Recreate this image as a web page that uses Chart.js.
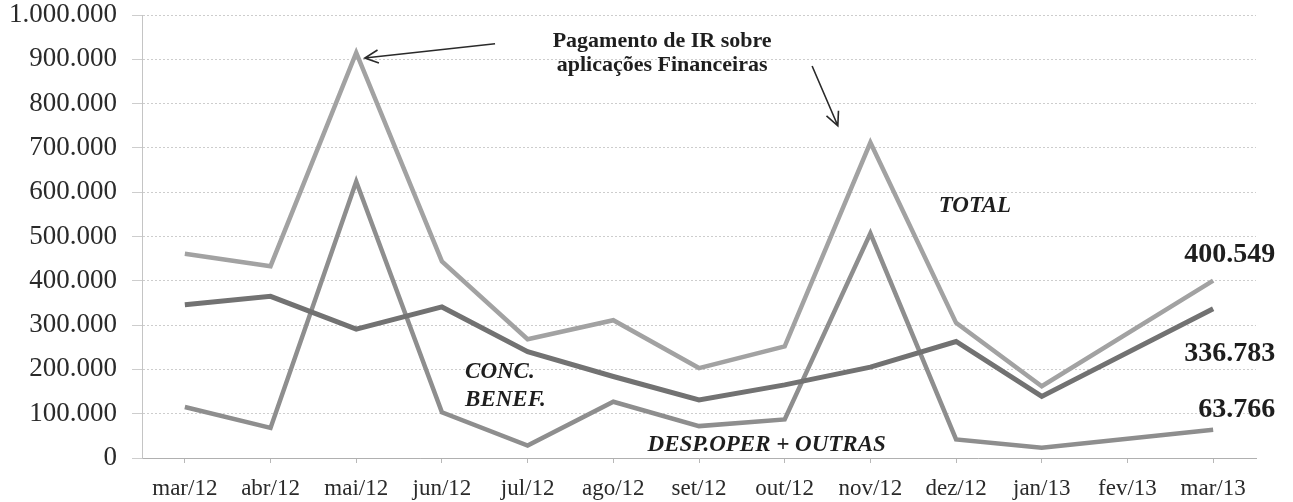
<!DOCTYPE html>
<html>
<head>
<meta charset="utf-8">
<script src="https://cdn.jsdelivr.net/npm/chart.js@4.4.1/dist/chart.umd.min.js"></script>
<style>
  html, body { margin: 0; padding: 0; background: #fff; }
  #wrap { width: 1293px; height: 502px; }
</style>
</head>
<body>
<div id="wrap"><canvas id="despChart"></canvas></div>
<script>
// Data (fev/13 has no visible point: the lines run straight jan/13 -> mar/13)
const months = ['mar/12', 'abr/12', 'mai/12', 'jun/12', 'jul/12', 'ago/12', 'set/12', 'out/12', 'nov/12', 'dez/12', 'jan/13', 'fev/13', 'mar/13'];
const totalValues = [461000, 433000, 915000, 444000, 268000, 311000, 203000, 252000, 712000, 305000, 162000, null, 400549];
const concBenef = [346000, 365000, 291000, 341000, 240000, 184000, 131000, 165000, 205000, 263000, 139000, null, 336783];
const despOper = [115000, 68000, 624000, 103000, 28000, 127000, 72000, 87000, 507000, 42000, 23000, null, 63766];
const yTicks = [0, 100000, 200000, 300000, 400000, 500000, 600000, 700000, 800000, 900000, 1000000];

const serif = "'Liberation Serif', 'Times New Roman', serif";

function fmt(v) {
    return String(Math.round(v)).replace(/\B(?=(\d{3})+(?!\d))/g, '.');
}

// text notes + arrows, placed in data units (category index, value)
const notes = {
    id: 'notes',
    afterDatasetsDraw(chart) {
        const ctx = chart.ctx;
        const x = chart.scales.x, y = chart.scales.y;
        const px = i => x.getPixelForValue(i);
        const py = v => y.getPixelForValue(v);

        ctx.save();
        ctx.fillStyle = '#1e1e1e';
        ctx.textBaseline = 'middle';

        // header note
        ctx.font = 'bold 22px ' + serif;
        ctx.textAlign = 'center';
        ctx.fillText('Pagamento de IR sobre', px(5.57), py(941000));
        ctx.fillText('aplicações Financeiras', px(5.57), py(887000));

        // series names
        ctx.font = 'italic bold 23px ' + serif;
        ctx.fillText('TOTAL', px(9.22), py(568000));
        ctx.fillText('DESP.OPER + OUTRAS', px(6.79), py(29000));
        ctx.textAlign = 'left';
        ctx.fillText('CONC.', px(3.27), py(194000));
        ctx.fillText('BENEF.', px(3.27), py(131000));

        // end values
        ctx.font = 'bold 28px ' + serif;
        ctx.textAlign = 'right';
        const last = months.length - 1;
        const ends = [[totalValues, -26], [concBenef, 45], [despOper, -20]];
        ends.forEach(([arr, dy]) => {
            ctx.fillText(fmt(arr[last]), px(last) + 62, py(arr[last]) + dy);
        });

        // arrows
        ctx.strokeStyle = '#2a2a2a';
        ctx.lineWidth = 1.6;
        const arrow = (x1, y1, x2, y2) => {
            ctx.beginPath();
            ctx.moveTo(x1, y1);
            ctx.lineTo(x2, y2);
            const a = Math.atan2(y2 - y1, x2 - x1);
            const len = 15;
            ctx.moveTo(x2 - len * Math.cos(a - 0.45), y2 - len * Math.sin(a - 0.45));
            ctx.lineTo(x2, y2);
            ctx.lineTo(x2 - len * Math.cos(a + 0.45), y2 - len * Math.sin(a + 0.45));
            ctx.stroke();
        };
        arrow(px(3.62), py(935000), px(2.10), py(903000));
        arrow(px(7.32), py(885000), px(7.62), py(750000));
        ctx.restore();
    }
};

const ctx = document.getElementById('despChart').getContext('2d');
new Chart(ctx, {
    type: 'line',
    data: {
        labels: months,
        datasets: [{
            label: 'TOTAL',
            data: totalValues,
            borderColor: '#a2a2a2',
            borderWidth: 4.5
        }, {
            label: 'CONC. BENEF.',
            data: concBenef,
            borderColor: '#727272',
            borderWidth: 5
        }, {
            label: 'DESP.OPER + OUTRAS',
            data: despOper,
            borderColor: '#8e8e8e',
            borderWidth: 4.5
        }]
    },
    options: {
        responsive: true,
        maintainAspectRatio: false,
        animation: false,
        spanGaps: true,
        elements: {
            line: { tension: 0 },
            point: { radius: 0 }
        },
        layout: {
            padding: { top: 15, right: 37, left: 0, bottom: 0 }
        },
        plugins: {
            legend: { display: false },
            tooltip: { enabled: false }
        },
        scales: {
            x: {
                offset: true,
                grid: {
                    display: true,
                    drawOnChartArea: false,
                    drawTicks: true,
                    tickLength: 5,
                    color: '#b8b8b8'
                },
                border: { color: '#b0b0b0', width: 1 },
                ticks: {
                    color: '#2a2a2a',
                    padding: 12,
                    maxRotation: 0,
                    autoSkip: false,
                    font: { family: serif, size: 23 }
                },
                afterFit(scale) {
                    scale.height = 44;
                    scale.paddingLeft = 0;
                    scale.paddingRight = 0;
                }
            },
            y: {
                min: 0,
                max: 1000000,
                afterBuildTicks(scale) {
                    scale.ticks = yTicks.map(v => ({ value: v }));
                },
                grid: {
                    color: '#cdcdcd',
                    tickLength: 10,
                    lineWidth: 1
                },
                border: { color: '#c4c4c4', dash: [2, 2] },
                ticks: {
                    color: '#2a2a2a',
                    padding: 15,
                    font: { family: serif, size: 27 },
                    callback: v => fmt(v)
                },
                afterFit(scale) {
                    scale.width = 142;
                    scale.paddingTop = 0;
                    scale.paddingBottom = 0;
                }
            }
        }
    },
    plugins: [notes]
});

document.getElementById('despChart').parentElement.style.height = '502px';
</script>
</body>
</html>
